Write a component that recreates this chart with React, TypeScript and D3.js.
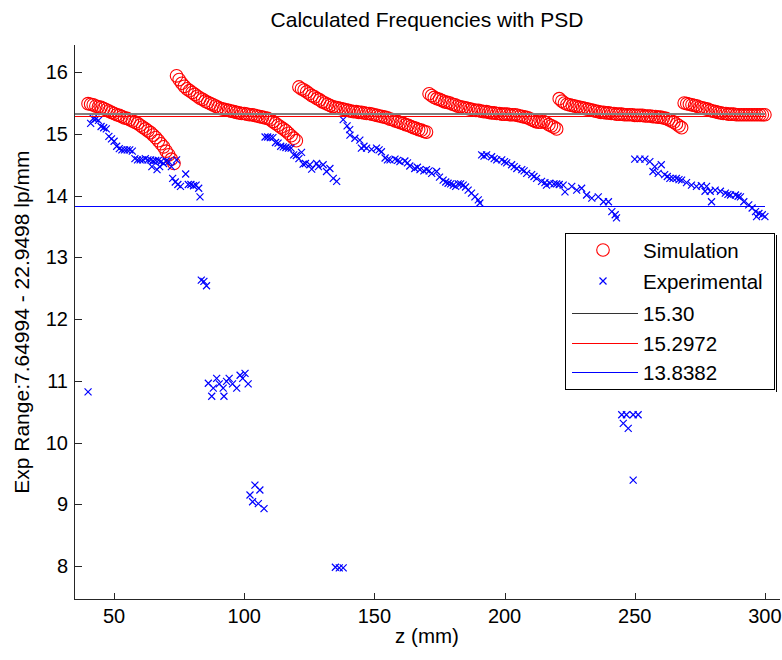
import React from "react";
import * as d3 from "d3";

const W = 782;
const H = 660;

const title = "Calculated Frequencies with PSD";
const xLabel = "z (mm)";
const yLabel = "Exp Range:7.64994 - 22.9498 lp/mm";
const xTicks = [50, 100, 150, 200, 250, 300];
const yTicks = [8, 9, 10, 11, 12, 13, 14, 15, 16];

// Simulation: one value per mm, z = 40 .. 300
const simStart = 40;
const simValues = [
  // 40-73
  15.49, 15.48, 15.47, 15.45, 15.44, 15.43, 15.41, 15.39, 15.37, 15.35,
  15.33, 15.31, 15.30, 15.28, 15.26, 15.25, 15.23, 15.21, 15.19, 15.17,
  15.14, 15.11, 15.08, 15.05, 15.02, 14.98, 14.94, 14.89, 14.84, 14.79,
  14.72, 14.66, 14.59, 14.52,
  // 74-120
  15.94, 15.88, 15.82, 15.77, 15.73, 15.70, 15.67, 15.64, 15.61, 15.58,
  15.56, 15.53, 15.51, 15.49, 15.47, 15.45, 15.43, 15.41, 15.40, 15.39,
  15.38, 15.37, 15.36, 15.35, 15.34, 15.33, 15.33, 15.32, 15.31, 15.31,
  15.30, 15.29, 15.28, 15.27, 15.26, 15.25, 15.23, 15.20, 15.17, 15.14,
  15.11, 15.08, 15.05, 15.01, 14.97, 14.93, 14.89,
  // 121-170
  15.76, 15.73, 15.71, 15.68, 15.65, 15.62, 15.60, 15.57, 15.55, 15.52,
  15.50, 15.48, 15.46, 15.44, 15.43, 15.42, 15.41, 15.40, 15.39, 15.38,
  15.37, 15.36, 15.36, 15.35, 15.35, 15.34, 15.33, 15.33, 15.32, 15.31,
  15.30, 15.29, 15.28, 15.27, 15.26, 15.24, 15.23, 15.21, 15.20, 15.18,
  15.17, 15.15, 15.14, 15.12, 15.10, 15.09, 15.07, 15.06, 15.04, 15.03,
  // 171-220
  15.65, 15.62, 15.59, 15.57, 15.56, 15.54, 15.52, 15.51, 15.50, 15.48,
  15.47, 15.45, 15.44, 15.43, 15.42, 15.41, 15.40, 15.39, 15.38, 15.38,
  15.37, 15.36, 15.36, 15.35, 15.34, 15.34, 15.33, 15.33, 15.32, 15.32,
  15.32, 15.31, 15.31, 15.31, 15.30, 15.29, 15.28, 15.27, 15.26, 15.24,
  15.22, 15.20, 15.19, 15.19, 15.20, 15.18, 15.15, 15.13, 15.11, 15.08,
  // 221-268
  15.57, 15.53, 15.50, 15.48, 15.47, 15.46, 15.45, 15.44, 15.43, 15.42,
  15.41, 15.40, 15.39, 15.38, 15.37, 15.36, 15.35, 15.35, 15.34, 15.34,
  15.33, 15.33, 15.32, 15.32, 15.32, 15.31, 15.31, 15.31, 15.31, 15.30,
  15.30, 15.30, 15.30, 15.29, 15.29, 15.29, 15.28, 15.28, 15.27, 15.27,
  15.26, 15.25, 15.23, 15.21, 15.19, 15.16, 15.13, 15.10,
  // 269-300
  15.50, 15.49, 15.48, 15.47, 15.46, 15.45, 15.43, 15.42, 15.41, 15.40,
  15.38, 15.37, 15.36, 15.35, 15.34, 15.33, 15.33, 15.32, 15.32, 15.32,
  15.31, 15.31, 15.31, 15.31, 15.31, 15.31, 15.31, 15.31, 15.31, 15.31,
  15.31, 15.31,
];

// Experimental points (z, value)
const expZ = [
  40,
  41, 42, 43, 44, 45, 46, 47, 48, 49, 50, 51, 52, 53, 54, 55, 56, 57, 58, 59, 60,
  61, 62, 63, 64, 65, 66, 67, 68, 69, 70, 71,
  64.5, 66.5, 67.5, 72, 74,
  72.5, 73.5, 74.5, 75.5, 77.5, 78.5, 79.5, 80.5, 81.5, 82.5, 83,
  83.5, 84.5, 85.5,
  86.2, 87.5, 88.1, 89.4, 90.4, 91.9, 92.2, 93.2, 94.2, 95.5, 97.1, 98.4, 99.4, 100.3, 101.5,
  102.2, 103.2, 104.1, 105.4, 106, 107.6,
  108, 109, 110, 111, 112, 113, 114, 115, 116, 117, 118, 119, 120, 121, 122,
  122.6, 123.5, 125.2, 125.9, 127.8, 128.5, 130.3, 131.6, 132.9, 134.2, 135.5,
  135, 136.5, 138,
  138, 139.5, 140.5, 140.6, 142.5, 144.4, 145, 146, 147, 148.9, 150.8, 151.8, 152.7,
  154.1, 155, 156, 157.9, 158.9, 159.8, 161.7, 162.7, 163.6, 165.5, 166.5, 167.5,
  169, 170, 171, 172, 173.9, 175, 176.4, 177.4, 178.3, 179.3, 180.3, 181.2, 182.2,
  183.1, 184.1, 185, 186, 187.3, 188.6, 189.9, 190.5,
  191.2, 192.1, 193.1, 195, 196, 197, 198.9, 200, 200.8, 202.7, 203.7, 204.7, 206.6,
  207.5, 208.5, 210.4, 211.3, 212.3, 214.2, 215.5, 216.1, 217.4, 219, 220, 221,
  222.5, 223.2, 225.8, 227.7, 229.6, 231.5, 233.5, 236, 238, 239.9, 241.2, 242.5, 243,
  245, 245.6, 246.8, 247.5, 249.4, 251.3, 249.4,
  250, 252, 253.9, 255.8, 257, 257.7, 259, 260.2, 261.5, 262.5, 263.5, 264.7, 266,
  267, 268, 269.9, 271.8, 273.7, 275.6, 277, 277.6, 279, 279.5, 280.9, 282.9, 284.8,
  285.8, 286.8, 288.7, 289.7, 290.6, 291.9, 293.8, 295.1, 296.4, 296.8, 297.7, 299, 300,
];
const expV = [
  10.82,
  15.17, 15.25, 15.24, 15.22, 15.12, 15.10, 15.08, 14.96, 14.92, 14.88, 14.80, 14.76,
  14.74, 14.74, 14.74, 14.74, 14.72, 14.60, 14.58, 14.58,
  14.58, 14.60, 14.58, 14.58, 14.56, 14.57, 14.57, 14.55, 14.52, 14.56, 14.55,
  14.47, 14.42, 14.47, 14.47, 14.58,
  14.28, 14.22, 14.18, 14.15, 14.35, 14.18, 14.18, 14.16, 14.17, 14.12, 13.98,
  12.63, 12.61, 12.54,
  10.96, 10.75, 10.88, 11.04, 10.95, 10.88, 10.75, 10.99, 11.04, 10.95, 10.88, 11.09, 11.04, 11.12, 10.95,
  9.15, 9.04, 9.31, 9.01, 9.23, 8.93,
  14.95, 14.95, 14.94, 14.94, 14.86, 14.85, 14.80, 14.79, 14.78, 14.77, 14.77, 14.66, 14.65, 14.60, 14.70,
  14.51, 14.52, 14.50, 14.43, 14.52, 14.47, 14.50, 14.39, 14.44, 14.28, 14.23,
  7.98, 7.97, 7.97,
  15.23, 15.13, 15.07, 14.98, 14.93, 14.90, 14.77, 14.80, 14.77, 14.75, 14.77, 14.74, 14.71,
  14.61, 14.58, 14.58, 14.59, 14.57, 14.55, 14.56, 14.53, 14.48, 14.44, 14.46, 14.42,
  14.40, 14.42, 14.40, 14.36, 14.39, 14.30, 14.25, 14.22, 14.20, 14.19, 14.17, 14.15, 14.19,
  14.19, 14.17, 14.14, 14.09, 14.04, 13.98, 13.93, 13.88,
  14.66, 14.64, 14.66, 14.63, 14.60, 14.58, 14.58, 14.55, 14.53, 14.50, 14.47, 14.44, 14.42,
  14.40, 14.36, 14.34, 14.31, 14.28, 14.23, 14.21, 14.17, 14.20, 14.19, 14.19, 14.18,
  14.17, 14.06, 14.15, 14.09, 14.12, 14.01, 13.96, 13.98, 13.90, 13.90, 13.74, 13.69, 13.64,
  10.45, 10.31, 10.45, 10.23, 10.45, 10.45, 9.39,
  14.59, 14.59, 14.59, 14.55, 14.39, 14.47, 14.36, 14.50, 14.34, 14.31, 14.28, 14.28, 14.28,
  14.26, 14.25, 14.21, 14.17, 14.15, 14.16, 14.07, 14.15, 14.07, 13.90, 14.09, 14.07, 14.04,
  14.02, 14.01, 14.01, 13.99, 13.98, 13.90, 13.85, 13.80, 13.74, 13.66, 13.71, 13.69, 13.66,
];

const refLabels = ["15.30", "15.2972", "13.8382"];
const refValues = [15.3, 15.2972, 13.8382];
const refColors = ["#333333", "#ff0000", "#0000ff"];

const FONT = "'Liberation Sans', Arial, Helvetica, sans-serif";

const crisp = (v: number) => Math.round(v) + 0.5;

export default function App() {
  const x = d3.scaleLinear().domain([34.6, 305.8]).range([74, 780]);
  const y = d3.scaleLinear().domain([7.46, 16.44]).range([599.3, 45]);
  const simZ = d3.range(simStart, simStart + simValues.length);
  const xr = x.range();
  const yr = y.range();
  const lineX0 = x(x.domain()[0]);
  const lineX1 = x(300);
  const cross = "M-3.5,-3.5L3.5,3.5M-3.5,3.5L3.5,-3.5";

  const lg = { x0: 565, y0: 233, x1: 774, y1: 389 };
  const rowY = [250, 281, 313, 343, 372];
  const ax0 = crisp(xr[0]);
  const ay0 = crisp(yr[0]);

  return (
    <svg
      width={W}
      height={H}
      style={{ position: "absolute", left: 0, top: 0, background: "#fff" }}
      fontFamily={FONT}
    >
      <rect x={0} y={0} width={W} height={H} fill="#fff" />
      {/* simulation */}
      <g fill="none" stroke="#ff0000" strokeWidth={1.1}>
        {simValues.map((v, i) => (
          <circle key={i} cx={x(simZ[i])} cy={y(v)} r={6.3} />
        ))}
      </g>
      {/* experimental */}
      <g fill="none" stroke="#0000ff" strokeWidth={1.2}>
        {expV.map((v, i) => (
          <path key={i} d={cross} transform={`translate(${x(expZ[i])},${y(v)})`} />
        ))}
      </g>
      {/* reference lines */}
      <g shapeRendering="crispEdges">
        <line x1={lineX0} x2={lineX1} y1={Math.round(y(refValues[0])) - 1} y2={Math.round(y(refValues[0])) - 1}
          stroke="#808080" strokeWidth={2} />
        <line x1={lineX0} x2={lineX1} y1={crisp(y(refValues[1]))} y2={crisp(y(refValues[1]))}
          stroke={refColors[1]} strokeWidth={1} />
        <line x1={lineX0} x2={lineX1} y1={crisp(y(refValues[2]))} y2={crisp(y(refValues[2]))}
          stroke={refColors[2]} strokeWidth={1} />
      </g>

      {/* axes */}
      <g stroke="#262626" strokeWidth={1} fill="none" shapeRendering="crispEdges">
        <line x1={ax0} x2={ax0} y1={ay0} y2={yr[1]} />
        <line x1={ax0} x2={xr[1]} y1={ay0} y2={ay0} />
        {xTicks.map((t) => (
          <line key={t} x1={crisp(x(t))} x2={crisp(x(t))} y1={ay0} y2={ay0 - 7} />
        ))}
        {yTicks.map((t) => (
          <line key={t} x1={ax0} x2={ax0 + 7} y1={crisp(y(t))} y2={crisp(y(t))} />
        ))}
      </g>
      <g fontSize={20} fill="#000">
        {xTicks.map((t) => (
          <text key={t} x={x(t)} y={623} textAnchor="middle">{t}</text>
        ))}
        {yTicks.map((t) => (
          <text key={t} x={68} y={y(t) + 7} textAnchor="end">{t}</text>
        ))}
      </g>
      <text x={(xr[0] + xr[1]) / 2} y={27} textAnchor="middle" fontSize={21} fill="#000">
        {title}
      </text>
      <text x={(xr[0] + xr[1]) / 2} y={643} textAnchor="middle" fontSize={20.5} fill="#000">
        {xLabel}
      </text>
      <text
        transform={`translate(28.5,${(yr[0] + yr[1]) / 2}) rotate(-90)`}
        textAnchor="middle"
        fontSize={21}
        fill="#000"
      >
        {yLabel}
      </text>

      {/* legend */}
      <g shapeRendering="crispEdges">
        <rect x={lg.x0 + 0.5} y={lg.y0 + 0.5} width={lg.x1 - lg.x0} height={lg.y1 - lg.y0}
          fill="#fff" stroke="#000" strokeWidth={1} />
        <line x1={lg.x1 + 2} x2={lg.x1 + 2} y1={lg.y0 + 2} y2={lg.y1 + 3} stroke="#000" strokeWidth={1} />
        {refLabels.map((l, i) => (
          <line key={l} x1={572} x2={638} y1={rowY[2 + i] + 0.5} y2={rowY[2 + i] + 0.5}
            stroke={refColors[i]} strokeWidth={1} />
        ))}
      </g>
      <circle cx={603} cy={rowY[0]} r={6.3} fill="none" stroke="#ff0000" strokeWidth={1.1} />
      <path d={cross} transform={`translate(603,${rowY[1]})`} fill="none" stroke="#0000ff" strokeWidth={1.2} />
      <g fontSize={20.5} fill="#000">
        <text x={643} y={rowY[0] + 7.5}>Simulation</text>
        <text x={643} y={rowY[1] + 7.5}>Experimental</text>
        {refLabels.map((l, i) => (
          <text key={l} x={643} y={rowY[2 + i] + 7.5}>{l}</text>
        ))}
      </g>
    </svg>
  );
}
